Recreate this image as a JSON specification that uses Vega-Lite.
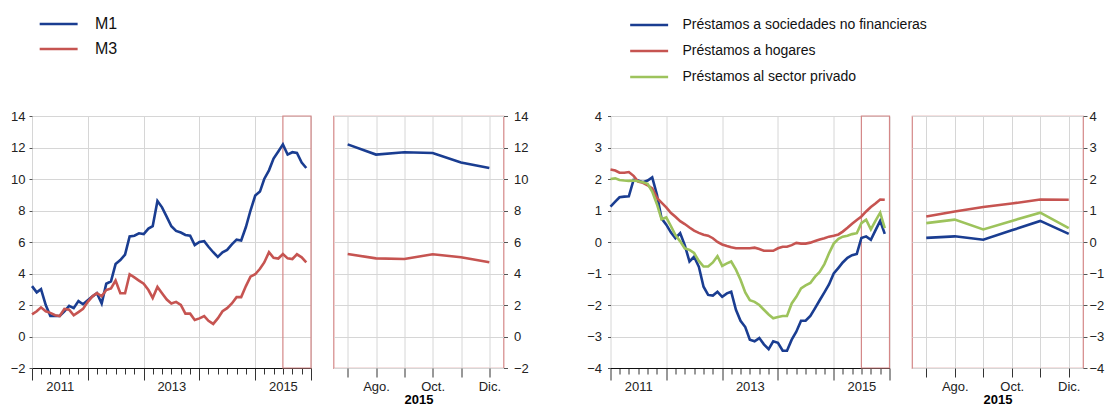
{
"$schema": "https://vega.github.io/schema/vega-lite/v6.json",
"padding": {"left": 10, "top": 16, "right": 0, "bottom": 0},
"config": {"font": "Liberation Sans", "view": {"stroke": null}, "axis": {"labelFont": "Liberation Sans", "labelFontSize": 13, "labelColor": "#222", "titleFont": "Liberation Sans"}, "legend": {"labelFont": "Liberation Sans", "labelLimit": 400}},
"datasets": {
"money": [
{"d":"2011/01/01","s":"M1","v":3.2},{"d":"2011/02/01","s":"M1","v":2.8},{"d":"2011/03/01","s":"M1","v":3.0},{"d":"2011/04/01","s":"M1","v":2.0},{"d":"2011/05/01","s":"M1","v":1.3},{"d":"2011/06/01","s":"M1","v":1.3},{"d":"2011/07/01","s":"M1","v":1.3},{"d":"2011/08/01","s":"M1","v":1.6},{"d":"2011/09/01","s":"M1","v":1.95},{"d":"2011/10/01","s":"M1","v":1.8},{"d":"2011/11/01","s":"M1","v":2.25},{"d":"2011/12/01","s":"M1","v":2.05},
{"d":"2012/01/01","s":"M1","v":2.3},{"d":"2012/02/01","s":"M1","v":2.55},{"d":"2012/03/01","s":"M1","v":2.75},{"d":"2012/04/01","s":"M1","v":2.1},{"d":"2012/05/01","s":"M1","v":3.35},{"d":"2012/06/01","s":"M1","v":3.5},{"d":"2012/07/01","s":"M1","v":4.6},{"d":"2012/08/01","s":"M1","v":4.85},{"d":"2012/09/01","s":"M1","v":5.2},{"d":"2012/10/01","s":"M1","v":6.35},{"d":"2012/11/01","s":"M1","v":6.4},{"d":"2012/12/01","s":"M1","v":6.55},
{"d":"2013/01/01","s":"M1","v":6.5},{"d":"2013/02/01","s":"M1","v":6.85},{"d":"2013/03/01","s":"M1","v":7.0},{"d":"2013/04/01","s":"M1","v":8.6},{"d":"2013/05/01","s":"M1","v":8.2},{"d":"2013/06/01","s":"M1","v":7.6},{"d":"2013/07/01","s":"M1","v":7.0},{"d":"2013/08/01","s":"M1","v":6.7},{"d":"2013/09/01","s":"M1","v":6.6},{"d":"2013/10/01","s":"M1","v":6.45},{"d":"2013/11/01","s":"M1","v":6.4},{"d":"2013/12/01","s":"M1","v":5.8},
{"d":"2014/01/01","s":"M1","v":6.0},{"d":"2014/02/01","s":"M1","v":6.05},{"d":"2014/03/01","s":"M1","v":5.7},{"d":"2014/04/01","s":"M1","v":5.35},{"d":"2014/05/01","s":"M1","v":5.05},{"d":"2014/06/01","s":"M1","v":5.35},{"d":"2014/07/01","s":"M1","v":5.5},{"d":"2014/08/01","s":"M1","v":5.85},{"d":"2014/09/01","s":"M1","v":6.15},{"d":"2014/10/01","s":"M1","v":6.1},{"d":"2014/11/01","s":"M1","v":6.95},{"d":"2014/12/01","s":"M1","v":8.0},
{"d":"2015/01/01","s":"M1","v":8.95},{"d":"2015/02/01","s":"M1","v":9.2},{"d":"2015/03/01","s":"M1","v":10.0},{"d":"2015/04/01","s":"M1","v":10.55},{"d":"2015/05/01","s":"M1","v":11.3},{"d":"2015/06/01","s":"M1","v":11.75},{"d":"2015/07/01","s":"M1","v":12.2},{"d":"2015/08/01","s":"M1","v":11.55},{"d":"2015/09/01","s":"M1","v":11.7},{"d":"2015/10/01","s":"M1","v":11.65},{"d":"2015/11/01","s":"M1","v":11.05},{"d":"2015/12/01","s":"M1","v":10.7},
{"d":"2011/01/01","s":"M3","v":1.4},{"d":"2011/02/01","s":"M3","v":1.6},{"d":"2011/03/01","s":"M3","v":1.85},{"d":"2011/04/01","s":"M3","v":1.6},{"d":"2011/05/01","s":"M3","v":1.5},{"d":"2011/06/01","s":"M3","v":1.35},{"d":"2011/07/01","s":"M3","v":1.3},{"d":"2011/08/01","s":"M3","v":1.75},{"d":"2011/09/01","s":"M3","v":1.7},{"d":"2011/10/01","s":"M3","v":1.35},{"d":"2011/11/01","s":"M3","v":1.55},{"d":"2011/12/01","s":"M3","v":1.75},
{"d":"2012/01/01","s":"M3","v":2.2},{"d":"2012/02/01","s":"M3","v":2.55},{"d":"2012/03/01","s":"M3","v":2.75},{"d":"2012/04/01","s":"M3","v":2.55},{"d":"2012/05/01","s":"M3","v":2.95},{"d":"2012/06/01","s":"M3","v":3.05},{"d":"2012/07/01","s":"M3","v":3.55},{"d":"2012/08/01","s":"M3","v":2.75},{"d":"2012/09/01","s":"M3","v":2.75},{"d":"2012/10/01","s":"M3","v":3.95},{"d":"2012/11/01","s":"M3","v":3.75},{"d":"2012/12/01","s":"M3","v":3.55},
{"d":"2013/01/01","s":"M3","v":3.35},{"d":"2013/02/01","s":"M3","v":2.95},{"d":"2013/03/01","s":"M3","v":2.45},{"d":"2013/04/01","s":"M3","v":3.15},{"d":"2013/05/01","s":"M3","v":2.75},{"d":"2013/06/01","s":"M3","v":2.35},{"d":"2013/07/01","s":"M3","v":2.1},{"d":"2013/08/01","s":"M3","v":2.2},{"d":"2013/09/01","s":"M3","v":2.0},{"d":"2013/10/01","s":"M3","v":1.45},{"d":"2013/11/01","s":"M3","v":1.45},{"d":"2013/12/01","s":"M3","v":1.05},
{"d":"2014/01/01","s":"M3","v":1.15},{"d":"2014/02/01","s":"M3","v":1.3},{"d":"2014/03/01","s":"M3","v":1.0},{"d":"2014/04/01","s":"M3","v":0.8},{"d":"2014/05/01","s":"M3","v":1.15},{"d":"2014/06/01","s":"M3","v":1.6},{"d":"2014/07/01","s":"M3","v":1.8},{"d":"2014/08/01","s":"M3","v":2.1},{"d":"2014/09/01","s":"M3","v":2.5},{"d":"2014/10/01","s":"M3","v":2.5},{"d":"2014/11/01","s":"M3","v":3.2},{"d":"2014/12/01","s":"M3","v":3.8},
{"d":"2015/01/01","s":"M3","v":3.95},{"d":"2015/02/01","s":"M3","v":4.3},{"d":"2015/03/01","s":"M3","v":4.7},{"d":"2015/04/01","s":"M3","v":5.35},{"d":"2015/05/01","s":"M3","v":5.0},{"d":"2015/06/01","s":"M3","v":4.95},{"d":"2015/07/01","s":"M3","v":5.24},{"d":"2015/08/01","s":"M3","v":4.96},{"d":"2015/09/01","s":"M3","v":4.92},{"d":"2015/10/01","s":"M3","v":5.22},{"d":"2015/11/01","s":"M3","v":5.03},{"d":"2015/12/01","s":"M3","v":4.71}
],
"loans": [
{"d":"2011/01/01","s":"Préstamos a sociedades no financieras","v":1.12},{"d":"2011/02/01","s":"Préstamos a sociedades no financieras","v":1.28},{"d":"2011/03/01","s":"Préstamos a sociedades no financieras","v":1.42},{"d":"2011/04/01","s":"Préstamos a sociedades no financieras","v":1.44},{"d":"2011/05/01","s":"Préstamos a sociedades no financieras","v":1.45},{"d":"2011/06/01","s":"Préstamos a sociedades no financieras","v":1.97},{"d":"2011/07/01","s":"Préstamos a sociedades no financieras","v":1.95},{"d":"2011/08/01","s":"Préstamos a sociedades no financieras","v":1.9},{"d":"2011/09/01","s":"Préstamos a sociedades no financieras","v":1.95},{"d":"2011/10/01","s":"Préstamos a sociedades no financieras","v":2.05},{"d":"2011/11/01","s":"Préstamos a sociedades no financieras","v":1.5},{"d":"2011/12/01","s":"Préstamos a sociedades no financieras","v":0.75},
{"d":"2012/01/01","s":"Préstamos a sociedades no financieras","v":0.55},{"d":"2012/02/01","s":"Préstamos a sociedades no financieras","v":0.3},{"d":"2012/03/01","s":"Préstamos a sociedades no financieras","v":0.12},{"d":"2012/04/01","s":"Préstamos a sociedades no financieras","v":0.28},{"d":"2012/05/01","s":"Préstamos a sociedades no financieras","v":-0.1},{"d":"2012/06/01","s":"Préstamos a sociedades no financieras","v":-0.62},{"d":"2012/07/01","s":"Préstamos a sociedades no financieras","v":-0.47},{"d":"2012/08/01","s":"Préstamos a sociedades no financieras","v":-0.78},{"d":"2012/09/01","s":"Préstamos a sociedades no financieras","v":-1.42},{"d":"2012/10/01","s":"Préstamos a sociedades no financieras","v":-1.68},{"d":"2012/11/01","s":"Préstamos a sociedades no financieras","v":-1.7},{"d":"2012/12/01","s":"Préstamos a sociedades no financieras","v":-1.58},
{"d":"2013/01/01","s":"Préstamos a sociedades no financieras","v":-1.74},{"d":"2013/02/01","s":"Préstamos a sociedades no financieras","v":-1.63},{"d":"2013/03/01","s":"Préstamos a sociedades no financieras","v":-1.58},{"d":"2013/04/01","s":"Préstamos a sociedades no financieras","v":-2.15},{"d":"2013/05/01","s":"Préstamos a sociedades no financieras","v":-2.5},{"d":"2013/06/01","s":"Préstamos a sociedades no financieras","v":-2.7},{"d":"2013/07/01","s":"Préstamos a sociedades no financieras","v":-3.1},{"d":"2013/08/01","s":"Préstamos a sociedades no financieras","v":-3.15},{"d":"2013/09/01","s":"Préstamos a sociedades no financieras","v":-3.05},{"d":"2013/10/01","s":"Préstamos a sociedades no financieras","v":-3.25},{"d":"2013/11/01","s":"Préstamos a sociedades no financieras","v":-3.4},{"d":"2013/12/01","s":"Préstamos a sociedades no financieras","v":-3.15},
{"d":"2014/01/01","s":"Préstamos a sociedades no financieras","v":-3.2},{"d":"2014/02/01","s":"Préstamos a sociedades no financieras","v":-3.45},{"d":"2014/03/01","s":"Préstamos a sociedades no financieras","v":-3.45},{"d":"2014/04/01","s":"Préstamos a sociedades no financieras","v":-3.1},{"d":"2014/05/01","s":"Préstamos a sociedades no financieras","v":-2.85},{"d":"2014/06/01","s":"Préstamos a sociedades no financieras","v":-2.5},{"d":"2014/07/01","s":"Préstamos a sociedades no financieras","v":-2.5},{"d":"2014/08/01","s":"Préstamos a sociedades no financieras","v":-2.35},{"d":"2014/09/01","s":"Préstamos a sociedades no financieras","v":-2.1},{"d":"2014/10/01","s":"Préstamos a sociedades no financieras","v":-1.85},{"d":"2014/11/01","s":"Préstamos a sociedades no financieras","v":-1.6},{"d":"2014/12/01","s":"Préstamos a sociedades no financieras","v":-1.35},
{"d":"2015/01/01","s":"Préstamos a sociedades no financieras","v":-1.0},{"d":"2015/02/01","s":"Préstamos a sociedades no financieras","v":-0.82},{"d":"2015/03/01","s":"Préstamos a sociedades no financieras","v":-0.65},{"d":"2015/04/01","s":"Préstamos a sociedades no financieras","v":-0.5},{"d":"2015/05/01","s":"Préstamos a sociedades no financieras","v":-0.42},{"d":"2015/06/01","s":"Préstamos a sociedades no financieras","v":-0.38},{"d":"2015/07/01","s":"Préstamos a sociedades no financieras","v":0.13},{"d":"2015/08/01","s":"Préstamos a sociedades no financieras","v":0.18},{"d":"2015/09/01","s":"Préstamos a sociedades no financieras","v":0.07},{"d":"2015/10/01","s":"Préstamos a sociedades no financieras","v":0.37},{"d":"2015/11/01","s":"Préstamos a sociedades no financieras","v":0.67},{"d":"2015/12/01","s":"Préstamos a sociedades no financieras","v":0.26},
{"d":"2011/01/01","s":"Préstamos a hogares","v":2.3},{"d":"2011/02/01","s":"Préstamos a hogares","v":2.27},{"d":"2011/03/01","s":"Préstamos a hogares","v":2.2},{"d":"2011/04/01","s":"Préstamos a hogares","v":2.2},{"d":"2011/05/01","s":"Préstamos a hogares","v":2.22},{"d":"2011/06/01","s":"Préstamos a hogares","v":2.1},{"d":"2011/07/01","s":"Préstamos a hogares","v":1.92},{"d":"2011/08/01","s":"Préstamos a hogares","v":1.88},{"d":"2011/09/01","s":"Préstamos a hogares","v":1.8},{"d":"2011/10/01","s":"Préstamos a hogares","v":1.7},{"d":"2011/11/01","s":"Préstamos a hogares","v":1.4},{"d":"2011/12/01","s":"Préstamos a hogares","v":1.25},
{"d":"2012/01/01","s":"Préstamos a hogares","v":1.1},{"d":"2012/02/01","s":"Préstamos a hogares","v":0.92},{"d":"2012/03/01","s":"Préstamos a hogares","v":0.8},{"d":"2012/04/01","s":"Préstamos a hogares","v":0.66},{"d":"2012/05/01","s":"Préstamos a hogares","v":0.57},{"d":"2012/06/01","s":"Préstamos a hogares","v":0.46},{"d":"2012/07/01","s":"Préstamos a hogares","v":0.36},{"d":"2012/08/01","s":"Préstamos a hogares","v":0.29},{"d":"2012/09/01","s":"Préstamos a hogares","v":0.23},{"d":"2012/10/01","s":"Préstamos a hogares","v":0.2},{"d":"2012/11/01","s":"Préstamos a hogares","v":0.12},{"d":"2012/12/01","s":"Préstamos a hogares","v":0.0},
{"d":"2013/01/01","s":"Préstamos a hogares","v":-0.08},{"d":"2013/02/01","s":"Préstamos a hogares","v":-0.13},{"d":"2013/03/01","s":"Préstamos a hogares","v":-0.17},{"d":"2013/04/01","s":"Préstamos a hogares","v":-0.2},{"d":"2013/05/01","s":"Préstamos a hogares","v":-0.2},{"d":"2013/06/01","s":"Préstamos a hogares","v":-0.2},{"d":"2013/07/01","s":"Préstamos a hogares","v":-0.2},{"d":"2013/08/01","s":"Préstamos a hogares","v":-0.18},{"d":"2013/09/01","s":"Préstamos a hogares","v":-0.22},{"d":"2013/10/01","s":"Préstamos a hogares","v":-0.28},{"d":"2013/11/01","s":"Préstamos a hogares","v":-0.28},{"d":"2013/12/01","s":"Préstamos a hogares","v":-0.28},
{"d":"2014/01/01","s":"Préstamos a hogares","v":-0.2},{"d":"2014/02/01","s":"Préstamos a hogares","v":-0.15},{"d":"2014/03/01","s":"Préstamos a hogares","v":-0.15},{"d":"2014/04/01","s":"Préstamos a hogares","v":-0.1},{"d":"2014/05/01","s":"Préstamos a hogares","v":-0.03},{"d":"2014/06/01","s":"Préstamos a hogares","v":-0.05},{"d":"2014/07/01","s":"Préstamos a hogares","v":-0.05},{"d":"2014/08/01","s":"Préstamos a hogares","v":-0.02},{"d":"2014/09/01","s":"Préstamos a hogares","v":0.03},{"d":"2014/10/01","s":"Préstamos a hogares","v":0.08},{"d":"2014/11/01","s":"Préstamos a hogares","v":0.12},{"d":"2014/12/01","s":"Préstamos a hogares","v":0.17},
{"d":"2015/01/01","s":"Préstamos a hogares","v":0.2},{"d":"2015/02/01","s":"Préstamos a hogares","v":0.24},{"d":"2015/03/01","s":"Préstamos a hogares","v":0.33},{"d":"2015/04/01","s":"Préstamos a hogares","v":0.45},{"d":"2015/05/01","s":"Préstamos a hogares","v":0.58},{"d":"2015/06/01","s":"Préstamos a hogares","v":0.7},{"d":"2015/07/01","s":"Préstamos a hogares","v":0.81},{"d":"2015/08/01","s":"Préstamos a hogares","v":0.97},{"d":"2015/09/01","s":"Préstamos a hogares","v":1.11},{"d":"2015/10/01","s":"Préstamos a hogares","v":1.22},{"d":"2015/11/01","s":"Préstamos a hogares","v":1.35},{"d":"2015/12/01","s":"Préstamos a hogares","v":1.34},
{"d":"2011/01/01","s":"Préstamos al sector privado","v":2.0},{"d":"2011/02/01","s":"Préstamos al sector privado","v":2.02},{"d":"2011/03/01","s":"Préstamos al sector privado","v":1.97},{"d":"2011/04/01","s":"Préstamos al sector privado","v":1.95},{"d":"2011/05/01","s":"Préstamos al sector privado","v":1.94},{"d":"2011/06/01","s":"Préstamos al sector privado","v":1.95},{"d":"2011/07/01","s":"Préstamos al sector privado","v":1.93},{"d":"2011/08/01","s":"Préstamos al sector privado","v":1.9},{"d":"2011/09/01","s":"Préstamos al sector privado","v":1.85},{"d":"2011/10/01","s":"Préstamos al sector privado","v":1.6},{"d":"2011/11/01","s":"Préstamos al sector privado","v":1.2},{"d":"2011/12/01","s":"Préstamos al sector privado","v":0.72},
{"d":"2012/01/01","s":"Préstamos al sector privado","v":0.78},{"d":"2012/02/01","s":"Préstamos al sector privado","v":0.5},{"d":"2012/03/01","s":"Préstamos al sector privado","v":0.22},{"d":"2012/04/01","s":"Préstamos al sector privado","v":0.02},{"d":"2012/05/01","s":"Préstamos al sector privado","v":-0.2},{"d":"2012/06/01","s":"Préstamos al sector privado","v":-0.25},{"d":"2012/07/01","s":"Préstamos al sector privado","v":-0.35},{"d":"2012/08/01","s":"Préstamos al sector privado","v":-0.6},{"d":"2012/09/01","s":"Préstamos al sector privado","v":-0.78},{"d":"2012/10/01","s":"Préstamos al sector privado","v":-0.78},{"d":"2012/11/01","s":"Préstamos al sector privado","v":-0.65},{"d":"2012/12/01","s":"Préstamos al sector privado","v":-0.45},
{"d":"2013/01/01","s":"Préstamos al sector privado","v":-0.76},{"d":"2013/02/01","s":"Préstamos al sector privado","v":-0.68},{"d":"2013/03/01","s":"Préstamos al sector privado","v":-0.62},{"d":"2013/04/01","s":"Préstamos al sector privado","v":-0.88},{"d":"2013/05/01","s":"Préstamos al sector privado","v":-1.2},{"d":"2013/06/01","s":"Préstamos al sector privado","v":-1.6},{"d":"2013/07/01","s":"Préstamos al sector privado","v":-1.85},{"d":"2013/08/01","s":"Préstamos al sector privado","v":-1.9},{"d":"2013/09/01","s":"Préstamos al sector privado","v":-2.0},{"d":"2013/10/01","s":"Préstamos al sector privado","v":-2.15},{"d":"2013/11/01","s":"Préstamos al sector privado","v":-2.3},{"d":"2013/12/01","s":"Préstamos al sector privado","v":-2.42},
{"d":"2014/01/01","s":"Préstamos al sector privado","v":-2.38},{"d":"2014/02/01","s":"Préstamos al sector privado","v":-2.35},{"d":"2014/03/01","s":"Préstamos al sector privado","v":-2.35},{"d":"2014/04/01","s":"Préstamos al sector privado","v":-1.95},{"d":"2014/05/01","s":"Préstamos al sector privado","v":-1.74},{"d":"2014/06/01","s":"Préstamos al sector privado","v":-1.47},{"d":"2014/07/01","s":"Préstamos al sector privado","v":-1.38},{"d":"2014/08/01","s":"Préstamos al sector privado","v":-1.3},{"d":"2014/09/01","s":"Préstamos al sector privado","v":-1.1},{"d":"2014/10/01","s":"Préstamos al sector privado","v":-0.95},{"d":"2014/11/01","s":"Préstamos al sector privado","v":-0.7},{"d":"2014/12/01","s":"Préstamos al sector privado","v":-0.36},
{"d":"2015/01/01","s":"Préstamos al sector privado","v":-0.05},{"d":"2015/02/01","s":"Préstamos al sector privado","v":0.1},{"d":"2015/03/01","s":"Préstamos al sector privado","v":0.17},{"d":"2015/04/01","s":"Préstamos al sector privado","v":0.2},{"d":"2015/05/01","s":"Préstamos al sector privado","v":0.25},{"d":"2015/06/01","s":"Préstamos al sector privado","v":0.28},{"d":"2015/07/01","s":"Préstamos al sector privado","v":0.6},{"d":"2015/08/01","s":"Préstamos al sector privado","v":0.71},{"d":"2015/09/01","s":"Préstamos al sector privado","v":0.4},{"d":"2015/10/01","s":"Préstamos al sector privado","v":0.67},{"d":"2015/11/01","s":"Préstamos al sector privado","v":0.93},{"d":"2015/12/01","s":"Préstamos al sector privado","v":0.44}
]
},
"bounds": "flush",
"spacing": 22.5,
"resolve": {"scale": {"color": "independent", "x": "independent", "y": "independent"}, "legend": {"color": "independent"}},
"hconcat": [
{
"width": 279, "height": 252,
"data": {"name": "money"},
"layer": [
{"data": {"values": [{}]}, "mark": {"type": "rect", "filled": false, "stroke": "#d48888", "strokeWidth": 1.2}, "encoding": {"x": {"datum": {"year": 2015, "month": 7, "date": 1}, "type": "temporal"}, "x2": {"datum": {"year": 2016, "month": 1, "date": 1}}}},
{"mark": {"type": "line", "strokeWidth": 2.6},
"encoding": {
"x": {"field": "d", "type": "temporal", "scale": {"domain": [{"year": 2011, "month": 1, "date": 1}, {"year": 2016, "month": 1, "date": 1}], "nice": false},
"axis": {"title": null, "tickCount": {"interval": "month", "step": 2}, "labelExpr": "month(datum.value)==6 && year(datum.value)%2==1 ? timeFormat(datum.value, '%Y') : ''", "labelAngle": 0, "labelOverlap": false, "labelFlush": false, "labelBound": false, "labelPadding": 6, "grid": true, "gridColor": "#d6d6d6", "gridOpacity": {"condition": {"test": "month(datum.value)==0", "value": 1}, "value": 0}, "tickSize": {"condition": {"test": "month(datum.value)==0", "value": 12}, "value": 6}, "tickColor": "#333", "domainColor": "#111"}},
"y": {"field": "v", "type": "quantitative", "scale": {"domain": [-2, 14], "nice": false}, "axis": {"title": null, "values": [-2, 0, 2, 4, 6, 8, 10, 12, 14], "grid": true, "gridColor": "#d6d6d6", "domain": false, "tickSize": 3, "tickColor": "#555", "labelPadding": 4}},
"color": {"field": "s", "type": "nominal", "scale": {"domain": ["M1", "M3"], "range": ["#1a3d91", "#c65451"]},
"legend": {"orient": "none", "legendX": 6, "legendY": -100, "title": null, "direction": "vertical", "symbolType": "M-1,0H5", "symbolSize": 160, "symbolStrokeWidth": 2.5, "labelFontSize": 16, "labelOffset": 41, "rowPadding": 9, "padding": 0, "labelColor": "#111"}}
}}
]
},
{
"width": 170, "height": 252,
"data": {"name": "money"},
"transform": [{"filter": {"field": "d", "timeUnit": "yearmonth", "gte": {"year": 2015, "month": 7}}}],
"view": {"stroke": "#d48888", "strokeWidth": 1.2},
"mark": {"type": "line", "strokeWidth": 2.6},
"encoding": {
"x": {"field": "d", "timeUnit": "month", "type": "ordinal", "scale": {"type": "point", "padding": 0.5}, "axis": {"title": "2015", "titleFontSize": 13, "titleFontWeight": "bold", "titlePadding": 0, "labelExpr": "month(datum.value)==7 ? 'Ago.' : month(datum.value)==9 ? 'Oct.' : month(datum.value)==11 ? 'Dic.' : ''", "labelAngle": 0, "labelPadding": 3, "domain": false, "grid": true, "gridColor": "#d6d6d6", "tickSize": 9, "tickColor": "#333"}},
"y": {"field": "v", "type": "quantitative", "scale": {"domain": [-2, 14], "nice": false}, "axis": {"orient": "right", "title": null, "values": [-2, 0, 2, 4, 6, 8, 10, 12, 14], "grid": true, "gridColor": "#d6d6d6", "domain": false, "tickSize": 4, "tickColor": "#555", "labelPadding": 6, "labelAlign": "left"}},
"color": {"field": "s", "type": "nominal", "scale": {"domain": ["M1", "M3"], "range": ["#1a3d91", "#c65451"]}, "legend": null}
}
},
{
"width": 62, "height": 252,
"data": {"values": []},
"mark": {"type": "point", "opacity": 0}
},
{
"width": 279, "height": 252,
"data": {"name": "loans"},
"layer": [
{"data": {"values": [{}]}, "mark": {"type": "rect", "filled": false, "stroke": "#d48888", "strokeWidth": 1.2}, "encoding": {"x": {"datum": {"year": 2015, "month": 7, "date": 1}, "type": "temporal"}, "x2": {"datum": {"year": 2016, "month": 1, "date": 1}}}},
{"mark": {"type": "line", "strokeWidth": 2.6},
"encoding": {
"x": {"field": "d", "type": "temporal", "scale": {"domain": [{"year": 2011, "month": 1, "date": 1}, {"year": 2016, "month": 1, "date": 1}], "nice": false},
"axis": {"title": null, "tickCount": {"interval": "month", "step": 2}, "labelExpr": "month(datum.value)==6 && year(datum.value)%2==1 ? timeFormat(datum.value, '%Y') : ''", "labelAngle": 0, "labelOverlap": false, "labelFlush": false, "labelBound": false, "labelPadding": 6, "grid": true, "gridColor": "#d6d6d6", "gridOpacity": {"condition": {"test": "month(datum.value)==0", "value": 1}, "value": 0}, "tickSize": {"condition": {"test": "month(datum.value)==0", "value": 12}, "value": 6}, "tickColor": "#333", "domainColor": "#111"}},
"y": {"field": "v", "type": "quantitative", "scale": {"domain": [-4, 4], "nice": false}, "axis": {"title": null, "values": [-4, -3, -2, -1, 0, 1, 2, 3, 4], "grid": true, "gridColor": "#d6d6d6", "domain": false, "tickSize": 3, "tickColor": "#555", "labelPadding": 6}},
"color": {"field": "s", "type": "nominal", "scale": {"domain": ["Préstamos a sociedades no financieras", "Préstamos a hogares", "Préstamos al sector privado"], "range": ["#1a3d91", "#c65451", "#9dc35c"]},
"legend": {"orient": "none", "legendX": 18, "legendY": -99, "title": null, "direction": "vertical", "symbolType": "M-1,0H5", "symbolSize": 160, "symbolStrokeWidth": 2.5, "labelFontSize": 14, "labelOffset": 38, "rowPadding": 11, "padding": 0, "labelColor": "#111"}}
}}
]
},
{
"width": 171, "height": 252,
"data": {"name": "loans"},
"transform": [{"filter": {"field": "d", "timeUnit": "yearmonth", "gte": {"year": 2015, "month": 7}}}],
"view": {"stroke": "#d48888", "strokeWidth": 1.2},
"mark": {"type": "line", "strokeWidth": 2.6},
"encoding": {
"x": {"field": "d", "timeUnit": "month", "type": "ordinal", "scale": {"type": "point", "padding": 0.5}, "axis": {"title": "2015", "titleFontSize": 13, "titleFontWeight": "bold", "titlePadding": 0, "labelExpr": "month(datum.value)==7 ? 'Ago.' : month(datum.value)==9 ? 'Oct.' : month(datum.value)==11 ? 'Dic.' : ''", "labelAngle": 0, "labelPadding": 3, "domain": false, "grid": true, "gridColor": "#d6d6d6", "tickSize": 9, "tickColor": "#333"}},
"y": {"field": "v", "type": "quantitative", "scale": {"domain": [-4, 4], "nice": false}, "axis": {"orient": "right", "title": null, "values": [-4, -3, -2, -1, 0, 1, 2, 3, 4], "grid": true, "gridColor": "#d6d6d6", "domain": false, "tickSize": 4, "tickColor": "#555", "labelPadding": 2, "labelAlign": "left"}},
"color": {"field": "s", "type": "nominal", "scale": {"domain": ["Préstamos a sociedades no financieras", "Préstamos a hogares", "Préstamos al sector privado"], "range": ["#1a3d91", "#c65451", "#9dc35c"]}, "legend": null}
}
}
]
}
